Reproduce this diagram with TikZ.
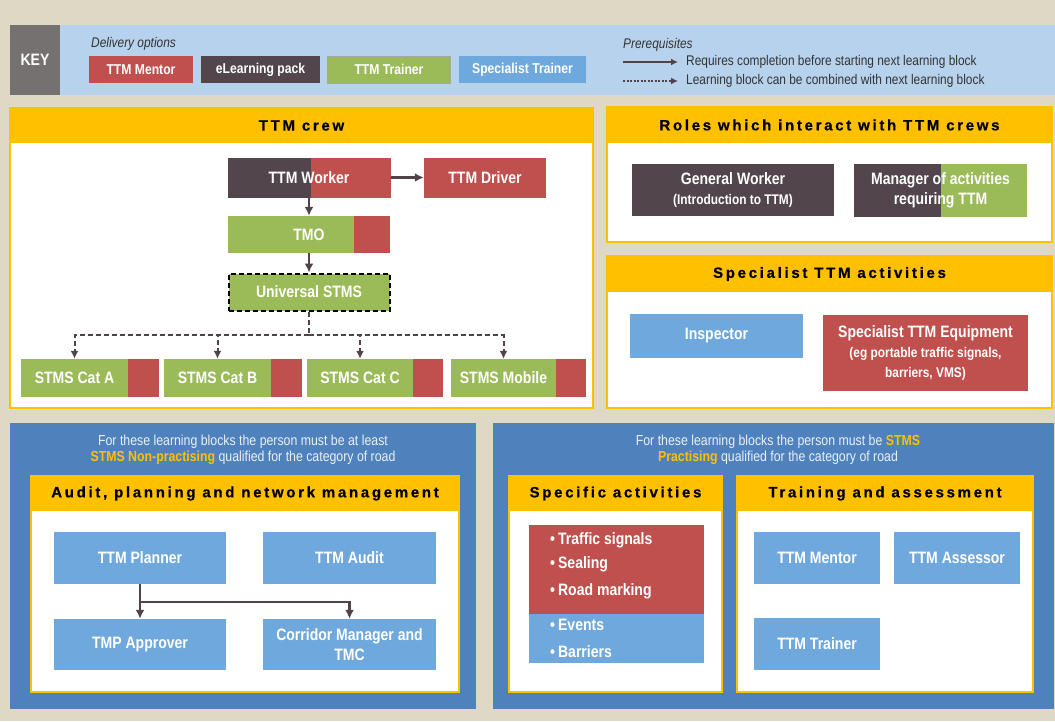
\documentclass[tikz,border=0pt]{standalone}
\usepackage{fontspec}
\setmainfont{Liberation Sans}
\newfontfamily\narrow[FakeStretch=0.85]{Liberation Sans}
\newfontfamily\spaced[LetterSpace=18, BoldFeatures={FakeBold=0.6}]{Liberation Sans}
\usetikzlibrary{arrows,arrows.meta,positioning,shapes}

\definecolor{bgbeige}{RGB}{221,217,196}
\definecolor{keyblue}{RGB}{183,210,236}
\definecolor{keygrey}{RGB}{118,113,113}
\definecolor{mred}{RGB}{192,80,77}
\definecolor{mdark}{RGB}{82,70,76}
\definecolor{mgreen}{RGB}{155,187,89}
\definecolor{mblue}{RGB}{111,168,220}
\definecolor{pblue}{RGB}{79,129,189}
\definecolor{myel}{RGB}{255,192,0}
\definecolor{arr}{RGB}{80,68,74}

\tikzset{
  lbl/.style={inner sep=0pt, text=white, align=center,
    font=\narrow\bfseries\fontsize{16.5}{20}\selectfont},
  keybox/.style={lbl, minimum height=27, font=\narrow\bfseries\fontsize{14.3}{17}\selectfont},
  legtxt/.style={anchor=west, inner xsep=8pt, inner ysep=0pt, text=black!80,
    font=\narrow\fontsize{14}{16}\selectfont},
  panel/.style={fill=white, draw=myel, line width=1.5pt},
  head/.style={fill=myel, inner sep=0pt, minimum height=35,
    font=\spaced\bfseries\fontsize{15}{17}\selectfont},
  note/.style={inner sep=0pt, text=white!88!pblue, align=center,
    font=\narrow\fontsize{14.5}{16}\selectfont},
  bul/.style={lbl, anchor=west},
  flow/.style={-{Latex[length=9pt,width=9pt]}, draw=arr, line width=2.5pt},
  combo/.style={-{Latex[length=8pt,width=8pt]}, draw=arr, line width=2pt, dash pattern=on 5pt off 3pt},
  leftpart/.style 2 args={path picture={\fill[#1] (path picture bounding box.south west)
    rectangle ([xshift=#2]path picture bounding box.north west);}},
  rightpart/.style 2 args={path picture={\fill[#1] (path picture bounding box.south east)
    rectangle ([xshift=-#2]path picture bounding box.north east);}}
}
\newcommand{\bulletmark}{\textbullet\hspace{3pt}}

\begin{document}
\begin{tikzpicture}[x=1pt,y=-1pt,>=latex']
  \fill[bgbeige] (0,0) rectangle (1055,721);
  \useasboundingbox (0,0) rectangle (1055,721);
  %%%%%%%%% key
  \node (keybar) [fill=keyblue, minimum width=995, minimum height=70, inner sep=0pt] at (557.5,60) {};
  \node (key) [lbl, fill=keygrey, minimum width=50, minimum height=70] at (35,60) {KEY};
  \node (deliv) [anchor=west, inner sep=0pt, font=\narrow\itshape\fontsize{14}{16}\selectfont, text=black!80] at (91,44) {Delivery options};
  \node (lmentor) [keybox, fill=mred, minimum width=104] at (141,69.5) {TTM Mentor};
  \node (lelearn) [keybox, fill=mdark, minimum width=119] at (260.5,69.5) {eLearning pack};
  \node (ltrainer) [keybox, fill=mgreen, draw=black!35, line width=1pt, minimum width=123] at (389,69.5) {TTM Trainer};
  \node (lspec) [keybox, fill=mblue, minimum width=127] at (522.5,69.5) {Specialist Trainer};
  \node (prereq) [anchor=west, inner sep=0pt, font=\narrow\itshape\fontsize{14}{16}\selectfont, text=black!80] at (623,45) {Prerequisites};
  \coordinate (p1) at (623,62);
  \coordinate (p2) at (623,81);
  \node (req) [legtxt] at (678,62) {Requires completion before starting next learning block};
  \node (comb) [legtxt] at (678,81) {Learning block can be combined with next learning block};
  \draw[-{Latex[length=7pt,width=7pt]}, draw=arr, line width=1.5pt] (p1) -- (req);
  \draw[-{Latex[length=7pt,width=7pt]}, draw=arr, line width=1.3pt, dash pattern=on 2pt off 1.5pt] (p2) -- (comb);
  %%%%%%%%% TTM crew
  \node (crew) [panel, minimum width=583, minimum height=300] at (301.5,258) {};
  \node (crewh) [head, minimum width=584] at (301.5,125.5) {TTM crew};
  \node (tw) [lbl, fill=mred, leftpart={mdark}{83}, minimum width=163, minimum height=40] at (309,177.5) {TTM Worker};
  \node (td) [lbl, fill=mred, minimum width=122, minimum height=40] at (485,177.5) {TTM Driver};
  \node (tmo) [lbl, fill=mgreen, rightpart={mred}{36}, minimum width=162, minimum height=37] at (309,234.5) {TMO};
  \node (us) [lbl, fill=mgreen, draw=black, line width=2pt, dash pattern=on 5pt off 3pt, minimum width=161, minimum height=37] at (309,292) {Universal STMS};
  \coordinate (split) at (309,335);
  \node (ca) [lbl, fill=mgreen, minimum width=107, minimum height=38] at (74.5,378) {STMS Cat A};
  \node (cb) [lbl, fill=mgreen, minimum width=107, minimum height=38] at (217.5,378) {STMS Cat B};
  \node (cc) [lbl, fill=mgreen, minimum width=106, minimum height=38] at (360,378) {STMS Cat C};
  \node (cm) [lbl, fill=mgreen, minimum width=105, minimum height=38] at (503.5,378) {STMS Mobile};
  \foreach \n/\w in {ca/31,cb/31,cc/30,cm/30}
    \fill[mred] (\n.north east) rectangle ([xshift=\w]\n.south east);
  \draw[flow] (tw) -- (td);
  \draw[flow] (tw) -- (tmo);
  \draw[flow] (tmo) -- (us);
  \draw[draw=arr, line width=2pt, dash pattern=on 5pt off 3pt] (us) -- (split);
  \foreach \n in {ca,cb,cc,cm}
    \draw[combo] (split) -| (\n);
  %%%%%%%%% roles
  \node (roles) [panel, minimum width=445, minimum height=135] at (829.5,174.5) {};
  \node (rolesh) [head, minimum width=446, minimum height=36] at (829.5,125) {Roles which interact with TTM crews};
  \node (gw) [lbl, fill=mdark, minimum width=202, minimum height=52] at (733,190) {General Worker\\ \fontsize{14}{18}\selectfont (Introduction to TTM)};
  \node (mg) [lbl, fill=mgreen, leftpart={mdark}{87}, minimum width=173, minimum height=53] at (940.5,190.5) {\fontsize{16.5}{21}\selectfont Manager of activities\\ requiring TTM};
  %%%%%%%%% specialist
  \node (spec) [panel, minimum width=445, minimum height=152] at (829.5,332) {};
  \node (spech) [head, minimum width=446, minimum height=36] at (829.5,274) {Specialist TTM activities};
  \node (insp) [lbl, fill=mblue, minimum width=173, minimum height=44] at (716.5,336) {Inspector};
  \node (equip) [lbl, fill=mred, minimum width=205, minimum height=76] at (925.5,353) {Specialist TTM Equipment\\ \fontsize{14}{18}\selectfont (eg portable traffic signals,\\ \fontsize{14}{18}\selectfont barriers, VMS)};
  %%%%%%%%% non-practising
  \node (npr) [fill=pblue, minimum width=466, minimum height=286] at (243,566) {};
  \node (nprt) [note] at (243,450) {For these learning blocks the person must be at least\\
    {\color{myel}\bfseries STMS Non-practising} qualified for the category of road};
  \node (aud) [panel, minimum width=428, minimum height=216] at (245,584) {};
  \node (audh) [head, minimum width=429] at (245,493.5) {Audit, planning and network management};
  \node (tp) [lbl, fill=mblue, minimum width=172, minimum height=52] at (140,558) {TTM Planner};
  \node (ta) [lbl, fill=mblue, minimum width=173, minimum height=52] at (349.5,558) {TTM Audit};
  \node (tap) [lbl, fill=mblue, minimum width=172, minimum height=51] at (140,644.5) {TMP Approver};
  \node (cmg) [lbl, fill=mblue, minimum width=173, minimum height=51] at (349.5,644.5) {\fontsize{16.5}{20}\selectfont Corridor Manager and\\ TMC};
  \coordinate (pj) at (140,602);
  \draw[flow] (tp) -- (tap);
  \draw[flow] (pj) -| (cmg);
  %%%%%%%%% practising
  \node (pr) [fill=pblue, minimum width=561, minimum height=286] at (773.5,566) {};
  \node (prt) [note] at (778,450) {For these learning blocks the person must be {\color{myel}\bfseries STMS}\\
    {\color{myel}\bfseries Practising} qualified for the category of road};
  \node (sa) [panel, minimum width=213, minimum height=216] at (615.5,584) {};
  \node (sah) [head, minimum width=214] at (615.5,493.5) {Specific activities};
  \node (sared) [fill=mred, minimum width=175, minimum height=89, inner sep=0pt] at (616.5,569.5) {};
  \node (sablue) [fill=mblue, minimum width=175, minimum height=49, inner sep=0pt] at (616.5,638.5) {};
  \node (b1) [bul] at (550,540) {\bulletmark Traffic signals};
  \node (b2) [bul] at (550,564) {\bulletmark Sealing};
  \node (b3) [bul] at (550,591) {\bulletmark Road marking};
  \node (b4) [bul] at (550,625) {\bulletmark Events};
  \node (b5) [bul] at (550,652) {\bulletmark Barriers};
  \node (tra) [panel, minimum width=296, minimum height=216] at (885,584) {};
  \node (trah) [head, minimum width=297] at (885,493.5) {Training and assessment};
  \node (tmen) [lbl, fill=mblue, minimum width=126, minimum height=52] at (817,558) {TTM Mentor};
  \node (tass) [lbl, fill=mblue, minimum width=126, minimum height=52] at (957,558) {TTM Assessor};
  \node (ttr) [lbl, fill=mblue, minimum width=126, minimum height=52] at (817,644) {TTM Trainer};
\end{tikzpicture}
\end{document}
